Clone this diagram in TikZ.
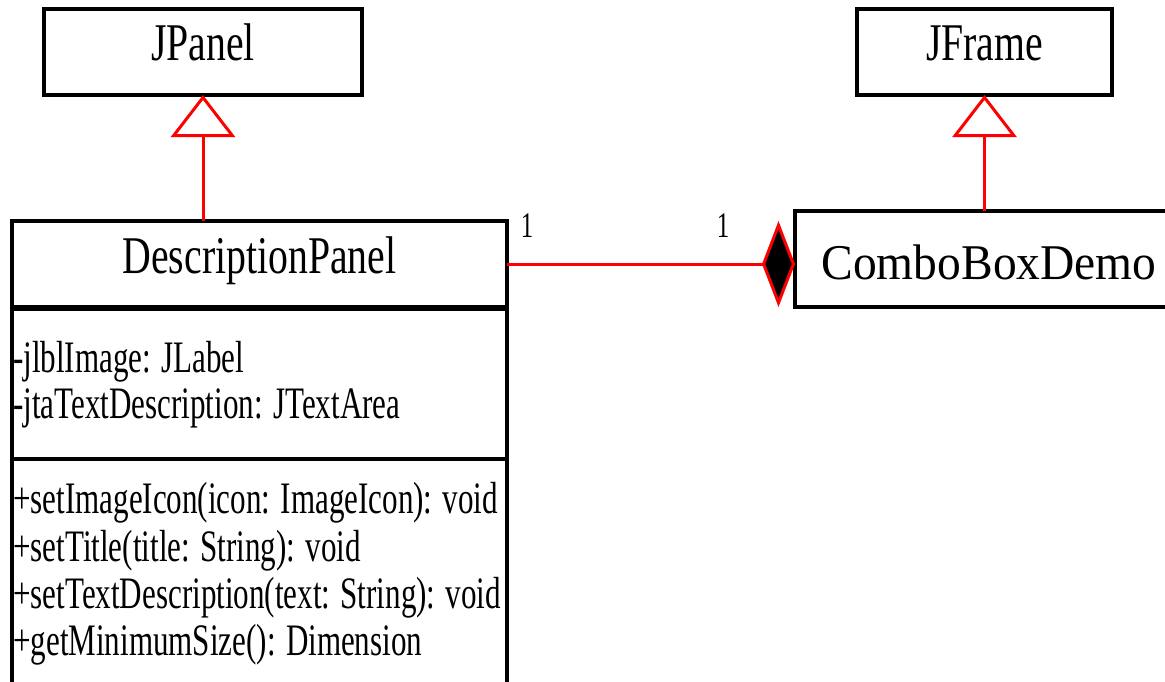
\documentclass[tikz,border=0pt]{standalone}
\usepackage{fontspec}
\setmainfont{Liberation Serif}
\newfontfamily\classfont{Liberation Serif}[FakeStretch=0.75]
\newfontfamily\demofont{Liberation Serif}[FakeStretch=0.95]
\newfontfamily\memberfont{Liberation Serif}[FakeStretch=0.69]
\usetikzlibrary{positioning,arrows.meta}

\tikzset{
  classbox/.style={draw, line width=4pt, inner sep=0pt, outer sep=0pt, minimum height=86pt,
    font=\classfont\fontsize{53}{53}\selectfont, text height=36pt, text depth=20pt},
  compartment/.style={draw, line width=4pt, inner sep=0pt, outer sep=0pt, minimum width=495pt, anchor=north},
  member/.style={anchor=base west, inner sep=0pt, font=\memberfont\fontsize{45}{45}\selectfont},
  mult/.style={inner sep=0pt, font=\memberfont\fontsize{36}{36}\selectfont},
  inherit/.style={red, line width=3pt, -{Triangle[open, length=42pt, width=64pt, fill=white]}},
  compose/.style={red, line width=3pt, -{Diamond[length=33pt, width=86pt, fill=black]}}
}

\begin{document}
\begin{tikzpicture}[x=1pt, y=-1pt]
    \clip (0,0) rectangle (1165,681);

    % Superclasses
    \node[classbox, minimum width=318pt] (jpanel) at (203,52) {JPanel};
    \node[classbox, minimum width=255pt] (jframe) at (984.5,52) {JFrame};

    % DescriptionPanel with its compartments
    \node[classbox, minimum width=495pt, text depth=18pt] (dpname) at (259.5,264) {DescriptionPanel};
    \node[compartment, minimum height=150pt] (dpattr) at ([yshift=-1.5pt]dpname.south) {};
    \node[compartment, minimum height=300pt] (dpmeth) at (dpattr.south) {};

    \node[member] (attr1) at (13,372) {-jlblImage: JLabel};
    \node[member] (attr2) at (13,418) {-jtaTextDescription: JTextArea};

    \node[member] (meth1) at (13,513) {+setImageIcon(icon: ImageIcon): void};
    \node[member] (meth2) at (13,561) {+setTitle(title: String): void};
    \node[member] (meth3) at (13,608) {+setTextDescription(text: String): void};
    \node[member] (meth4) at (13,655) {+getMinimumSize(): Dimension};

    % ComboBoxDemo
    \node[classbox, minimum width=388pt, minimum height=96pt, text height=40pt, text depth=0pt,
      font=\demofont\fontsize{50}{50}\selectfont] (combo) at (989,259) {ComboBoxDemo};

    % Generalizations
    \draw[inherit] (jpanel.south |- dpname.north) -- (jpanel.south);
    \draw[inherit] (jframe.south |- combo.north) -- (jframe.south);

    % Composition
    \draw[compose] (dpname.east) -- (dpname.east -| combo.west);
    \node[mult] (multpanel) at (527,226) {1};
    \node[mult] (multdemo) at (723,226) {1};
\end{tikzpicture}
\end{document}
